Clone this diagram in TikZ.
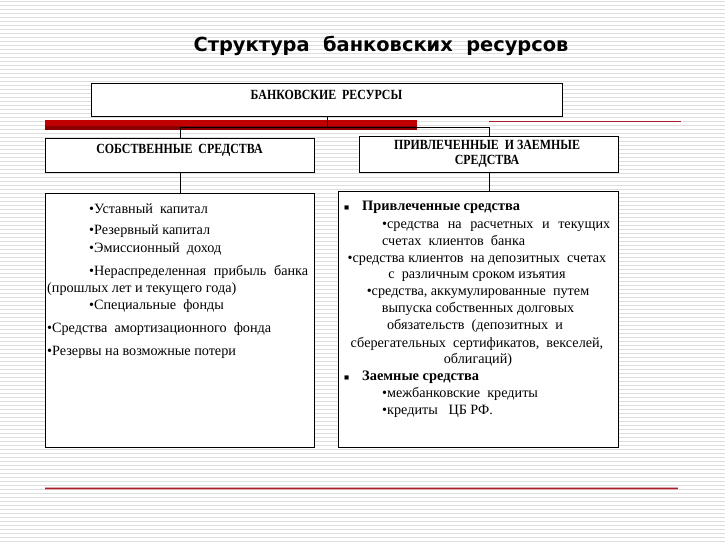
\documentclass[tikz,border=0pt]{standalone}
\usepackage{fontspec}
\setmainfont{Liberation Serif}
\newfontfamily\titlefont{DejaVu Sans}
\newfontfamily\hdrfont[FakeStretch=0.85]{Liberation Serif}
\definecolor{stripe}{HTML}{DEDEDE}
\definecolor{barred}{HTML}{C00000}
\definecolor{bardark}{HTML}{8A0000}
\definecolor{linered}{HTML}{A8202C}
\newcommand{\dsp}{\ \ }
\newcommand{\jl}[2]{\makebox[#1pt][s]{#2}}
\begin{document}
\begin{tikzpicture}[x=1pt,y=-1pt,
  box/.style={draw=black,line width=1.1pt,fill=white,anchor=north west,inner sep=0},
  hdr/.style={font=\hdrfont\bfseries\fontsize{14}{15}\selectfont,align=center,inner sep=0},
  itm/.style={font=\fontsize{14.2}{16}\selectfont,anchor=base west,inner sep=0},
  bitm/.style={font=\bfseries\fontsize{14.4}{16}\selectfont,anchor=base west,inner sep=0},
  ctr/.style={font=\fontsize{14.2}{16}\selectfont,anchor=base,inner sep=0},
  sq/.style={font=\fontsize{8.5}{10}\selectfont,anchor=base west,inner sep=0},
  conn/.style={draw=black,line width=0.8pt}]
\useasboundingbox (0,0) rectangle (725,543);
\fill[white] (0,0) rectangle (725,543);
\foreach \i in {0,...,135} \fill[stripe] (0,{1+4*\i}) rectangle (725,{2.2+4*\i});
% title
\node[font=\titlefont\bfseries\fontsize{19.4}{22}\selectfont,inner sep=0] (title) at (381,46) {Структура\dsp банковских\dsp ресурсов};
% decorative bars
\fill[barred] (45,120) rectangle (417,130);
\fill[bardark] (45,126) rectangle (417,130);
\draw[linered,line width=1.2pt] (489,121.5) -- (681,121.5);
\draw[linered!40,line width=3pt] (45,488.5) -- (678,488.5);
\draw[linered,line width=1.3pt] (45,488.5) -- (678,488.5);
% boxes
\node[box,minimum width=471,minimum height=33] (top) at (91,83) {};
\node[box,minimum width=269,minimum height=34] (own) at (45,138) {};
\node[box,minimum width=259,minimum height=36] (att) at (359,136) {};
\node[box,minimum width=269,minimum height=254] (ownlist) at (45,193) {};
\node[box,minimum width=280,minimum height=256] (attlist) at (338,191) {};
% connectors
\coordinate (jy) at (0,127);
\draw[conn] (top.south) -- (top.south |- jy);
\draw[conn] (own.north) -- (own.north |- jy) -- (att.north |- jy) -- (att.north);
\draw[conn] (own.south) -- (own.south |- ownlist.north);
\draw[conn] (att.south) -- (att.south |- attlist.north);
% headers
\node[hdr] (topt) at (326.5,95) {БАНКОВСКИЕ\dsp РЕСУРСЫ};
\node[hdr] (ownt) at (179.5,150) {СОБСТВЕННЫЕ\dsp СРЕДСТВА};
\node[hdr] (attt) at (487,154) {ПРИВЛЕЧЕННЫЕ\dsp И ЗАЕМНЫЕ\\СРЕДСТВА};
% left list
\node[itm] (l1) at (89,213) {•Уставный\dsp капитал};
\node[itm] (l2) at (89,234) {•Резервный капитал};
\node[itm] (l3) at (89,252) {•Эмиссионный\dsp доход};
\node[itm] (l4) at (89,275) {\jl{219}{•Нераспределенная прибыль банка}};
\node[itm] (l5) at (47,292) {(прошлых лет и текущего года)};
\node[itm] (l6) at (89,309) {•Специальные\dsp фонды};
\node[itm] (l7) at (47,332) {•Средства\dsp амортизационного\dsp фонда};
\node[itm] (l8) at (47,355) {•Резервы на возможные потери};
% right list
\node[sq] (s1) at (344,210) {■};
\node[bitm] (r0) at (362,210) {Привлеченные средства};
\node[itm] (r1) at (382,228) {\jl{228}{•средства на расчетных и текущих}};
\node[itm] (r2) at (382,245) {счетах\dsp клиентов\dsp банка};
\node[ctr] (r3) at (477,262) {•средства клиентов\dsp на депозитных\dsp счетах};
\node[ctr] (r4) at (477,278) {с\dsp различным сроком изъятия};
\node[ctr] (r5) at (478,295) {•средства, аккумулированные\dsp путем};
\node[ctr] (r6) at (478,312) {выпуска собственных долговых};
\node[ctr] (r7) at (475,329) {обязательств\dsp (депозитных\dsp и};
\node[ctr] (r8) at (477,347) {сберегательных\dsp сертификатов,\dsp векселей,};
\node[ctr] (r9) at (478,363) {облигаций)};
\node[sq] (s2) at (344,380) {■};
\node[bitm] (r10) at (362,380) {Заемные средства};
\node[itm] (r11) at (382,397) {•межбанковские\dsp кредиты};
\node[itm] (r12) at (382,414) {•кредиты\dsp\ ЦБ РФ.};
\end{tikzpicture}
\end{document}
